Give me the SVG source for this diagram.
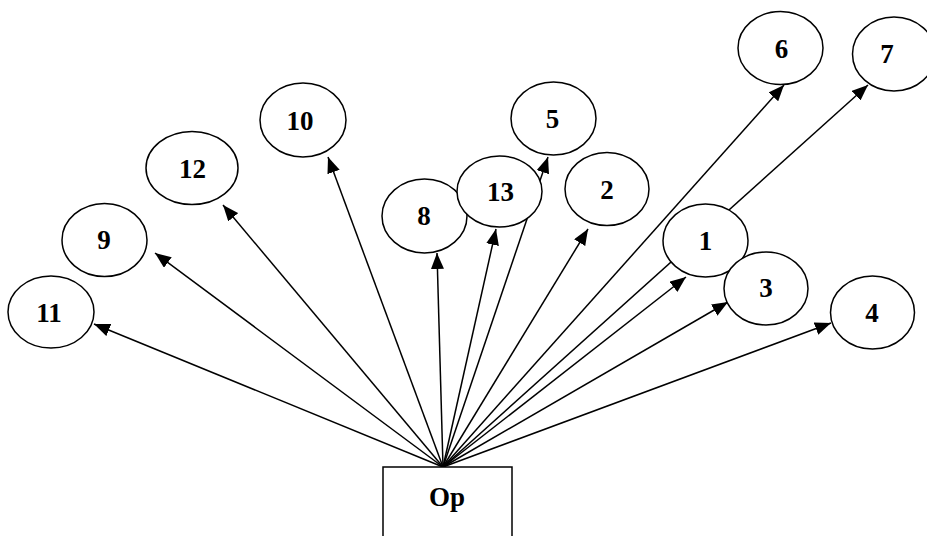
<svg xmlns="http://www.w3.org/2000/svg" width="927" height="536" viewBox="0 0 927 536">
<style>
.n ellipse{fill:#fff;stroke:#000;stroke-width:1.5}
.n rect{fill:#fff;stroke:#000;stroke-width:1.5}
text{font-family:"Liberation Serif","Times New Roman",serif;font-weight:bold;font-size:27px;text-anchor:middle;fill:#000}
.e line{stroke:#000;stroke-width:1.5;marker-end:url(#ah)}
</style>
<defs>
<marker id="ah" markerUnits="userSpaceOnUse" markerWidth="17" markerHeight="13" refX="16" refY="6.5" orient="auto">
<path d="M0,0 L16,6.5 L0,13 Z" fill="#000"/>
</marker>
</defs>
<rect width="927" height="536" fill="#fff"/>
<g id="connectors" class="e">
<line x1="443" y1="467" x2="94" y2="324"/>
<line x1="443" y1="467" x2="155" y2="253"/>
<line x1="443" y1="467" x2="223" y2="205"/>
<line x1="443" y1="467" x2="328" y2="157"/>
<line x1="443" y1="467" x2="437" y2="253"/>
<line x1="443" y1="467" x2="496" y2="229"/>
<line x1="443" y1="467" x2="548" y2="157"/>
<line x1="443" y1="467" x2="588" y2="229"/>
<line x1="443" y1="467" x2="784" y2="85"/>
<line x1="443" y1="467" x2="868" y2="85"/>
<line x1="443" y1="467" x2="686" y2="277"/>
<line x1="443" y1="467" x2="728" y2="302"/>
<line x1="443" y1="467" x2="831" y2="323"/>
</g>
<g id="op" class="n"><rect x="383" y="467" width="129" height="75"/><text x="447" y="506">Op</text></g>
<g id="n11" class="n"><ellipse cx="51" cy="312" rx="43" ry="36"/><text x="49" y="322">11</text></g>
<g id="n9" class="n"><ellipse cx="104.5" cy="240" rx="42.5" ry="36.5"/><text x="104" y="249">9</text></g>
<g id="n12" class="n"><ellipse cx="192" cy="168" rx="46" ry="36.5"/><text x="192.5" y="178">12</text></g>
<g id="n10" class="n"><ellipse cx="303" cy="120" rx="43" ry="37"/><text x="300" y="130">10</text></g>
<g id="n8" class="n"><ellipse cx="424.5" cy="216" rx="42.5" ry="37"/><text x="424" y="225">8</text></g>
<g id="n13" class="n"><ellipse cx="499.5" cy="191.5" rx="42.5" ry="35.5"/><text x="500.5" y="201">13</text></g>
<g id="n5" class="n"><ellipse cx="553.5" cy="118.5" rx="42.5" ry="36.5"/><text x="552.5" y="128">5</text></g>
<g id="n2" class="n"><ellipse cx="607" cy="189" rx="42" ry="36.5"/><text x="607" y="199">2</text></g>
<g id="n6" class="n"><ellipse cx="780.5" cy="48" rx="42.5" ry="36.5"/><text x="781.5" y="58">6</text></g>
<g id="n7" class="n"><ellipse cx="894" cy="54" rx="41.5" ry="37"/><text x="887" y="63">7</text></g>
<g id="n1" class="n"><ellipse cx="705.5" cy="240.5" rx="42.5" ry="36.5"/><text x="705.5" y="250">1</text></g>
<g id="n3" class="n"><ellipse cx="766" cy="288.5" rx="42" ry="36.5"/><text x="766" y="297">3</text></g>
<g id="n4" class="n"><ellipse cx="872.5" cy="312.5" rx="42" ry="36.5"/><text x="872" y="322">4</text></g>
</svg>
